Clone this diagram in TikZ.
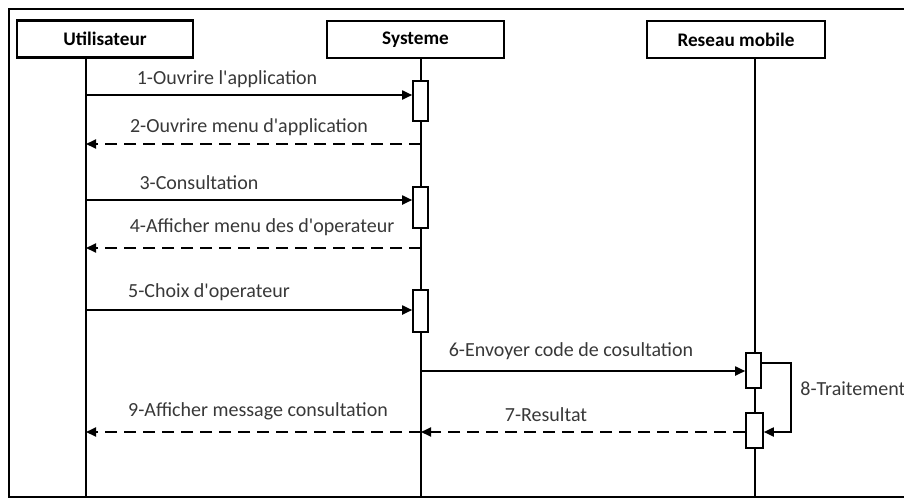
\documentclass[tikz,border=0pt]{standalone}
\usepackage{fontspec}
\setmainfont{Carlito}
\usetikzlibrary{arrows.meta,positioning}
\tikzset{
  acteur/.style={draw, line width=1.2pt, inner sep=0pt, minimum height=18.5pt,
    font=\bfseries\fontsize{9.6}{10}\selectfont},
  activ/.style={draw, line width=0.8pt, fill=white, inner sep=0pt, minimum width=7.5pt},
  vie/.style={line width=1pt},
  msg/.style={line width=0.9pt, -{Triangle[length=5pt,width=4.5pt]}},
  retour/.style={msg, dash pattern=on 6pt off 3.5pt},
  lbl/.style={font=\fontsize{10}{11}\selectfont, text=black!78, inner sep=0pt},
}
\newcommand{\apos}{\textquotesingle}
\begin{document}
\begin{tikzpicture}[x=0.5pt,y=-0.5pt]
    \useasboundingbox (0,0) rectangle (904,499);
    % cadre
    \draw[line width=1.2pt] (904,9) -- (9,9) -- (9,497) -- (904,497);

    % acteurs
    \node[acteur, minimum width=88pt] (util) at (105,39) {Utilisateur};
    \node[acteur, minimum width=88.5pt] (sys) at (415.5,39.5) {Systeme};
    \node[acteur, minimum width=89pt] (res) at (736,39.5) {Reseau mobile};

    % lignes de vie
    \coordinate (lu) at (86,57);
    \coordinate (ls) at (421,57);
    \coordinate (lr) at (755,57);
    \draw[vie] (lu) -- (lu |- 0,497);
    \draw[vie] (ls) -- (ls |- 0,497);
    \draw[vie] (lr) -- (lr |- 0,497);

    % activations
    \node[activ, minimum height=20pt] (a1) at (420.5,101) {};
    \node[activ, minimum height=20.5pt] (a2) at (420.5,207.5) {};
    \node[activ, minimum height=21pt] (a3) at (420.5,311) {};
    \node[activ, minimum height=17.5pt] (rA) at (753.5,370.5) {};
    \node[activ, minimum height=17.5pt, minimum width=8.5pt] (rB) at (754.5,430.5) {};

    % messages
    \coordinate (m1) at (86,95);
    \coordinate (m2) at (421,144);
    \coordinate (m3) at (86,200);
    \coordinate (m4) at (421,248);
    \coordinate (m5) at (86,310);
    \coordinate (m6) at (421,371);
    \coordinate (m7) at (421,432);
    \coordinate (m8) at (791,363);

    \draw[msg] (m1) -- (a1.west |- m1);
    \draw[retour] (m2) -- (lu |- m2);
    \draw[msg] (m3) -- (a2.west |- m3);
    \draw[retour] (m4) -- (lu |- m4);
    \draw[msg] (m5) -- (a3.west |- m5);
    \draw[msg] (m6) -- (rA.west |- m6);
    \draw[retour] (rB.west |- m7) -- (m7);
    \draw[retour] (m7) -- (lu |- m7);
    \draw[msg] (rA.east |- m8) -- (m8) |- (rB.east |- m7); % 8 boucle

    % textes
    \node[lbl] (t1) at (227,79) {1-Ouvrire l\apos application};
    \node[lbl] (t2) at (249,127) {2-Ouvrire menu d\apos application};
    \node[lbl] (t3) at (199,183) {3-Consultation};
    \node[lbl] (t4) at (262,227) {4-Afficher menu des d\apos operateur};
    \node[lbl] (t5) at (209,292) {5-Choix d\apos operateur};
    \node[lbl] (t6) at (571,351) {6-Envoyer code de cosultation};
    \node[lbl] (t7) at (546,415) {7-Resultat};
    \node[lbl] (t9) at (258,411) {9-Afficher message consultation};
    \node[lbl, anchor=west] (t8) at (800,389) {8-Traitement};
\end{tikzpicture}
\end{document}
